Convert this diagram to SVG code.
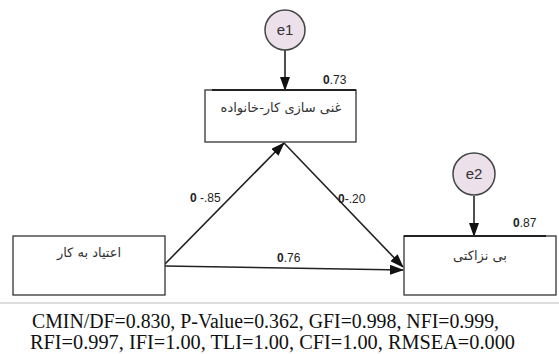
<svg xmlns="http://www.w3.org/2000/svg" width="559" height="354" viewBox="0 0 559 354">
<defs>
<marker id="ah" markerWidth="14" markerHeight="10" refX="13" refY="5" orient="auto" markerUnits="userSpaceOnUse">
<path d="M0,0 L14,5 L0,10 Z" fill="#111"/>
</marker>
<style>
.box{fill:#fff;stroke:#333;stroke-width:1.3}
.err{fill:#ece0eb;stroke:#444;stroke-width:1.5}
.fa{font-family:"DejaVu Sans","Noto Sans",sans-serif;font-size:13px;fill:#333}
.et{font-family:"Liberation Sans",Arial,sans-serif;font-size:15px;fill:#333}
.lb{font-family:"Liberation Sans",Arial,sans-serif;font-size:12px;fill:#222}
.cn{stroke:#222;stroke-width:1.6;fill:none}
.ft{font-family:"Liberation Serif","Times New Roman",serif;font-size:20px;fill:#111}
</style>
</defs>
<g id="connectors">
<line class="cn" x1="285" y1="50" x2="285" y2="90" marker-end="url(#ah)"/>
<line class="cn" x1="474" y1="196" x2="474" y2="236" marker-end="url(#ah)"/>
<line class="cn" x1="165" y1="264" x2="284" y2="143" marker-end="url(#ah)"/>
<line class="cn" x1="284" y1="143" x2="403" y2="267" marker-end="url(#ah)"/>
<line class="cn" x1="165" y1="266" x2="403" y2="270" marker-end="url(#ah)"/>
<text class="lb" x="190" y="202"><tspan font-weight="bold">0</tspan> -.85</text>
<text class="lb" x="338" y="203"><tspan font-weight="bold">0</tspan>-.20</text>
<text class="lb" x="277" y="262"><tspan font-weight="bold">0</tspan>.76</text>
</g>
<g id="e1">
<circle class="err" cx="285" cy="30" r="20"/>
<text class="et" x="285" y="35" text-anchor="middle">e1</text>
</g>
<g id="e2">
<circle class="err" cx="474" cy="174" r="21"/>
<text class="et" x="474" y="179" text-anchor="middle">e2</text>
</g>
<g id="n_work_family">
<rect class="box" x="205" y="90" width="151" height="52"/>
<line x1="212" y1="90" x2="356" y2="90" stroke="#222" stroke-width="2"/>
<text class="fa" x="281" y="112" text-anchor="middle" direction="rtl">غنی سازی کار-خانواده</text>
<text class="lb" x="323" y="84"><tspan font-weight="bold">0</tspan>.73</text>
</g>
<g id="n_workaholism">
<rect class="box" x="13" y="236" width="152" height="59"/>
<text class="fa" x="89" y="257" text-anchor="middle" direction="rtl">اعتیاد به کار</text>
</g>
<g id="n_incivility">
<rect class="box" x="404" y="236" width="152" height="59"/>
<line x1="404" y1="236" x2="546" y2="236" stroke="#222" stroke-width="2"/>
<text class="fa" x="480" y="260" text-anchor="middle" direction="rtl">بی نزاکتی</text>
<text class="lb" x="513" y="227"><tspan font-weight="bold">0</tspan>.87</text>
</g>
<line x1="0" y1="303" x2="559" y2="303" stroke="#bbb" stroke-width="1"/>
<text class="ft" x="32" y="328" textLength="467" lengthAdjust="spacingAndGlyphs">CMIN/DF=0.830, P-Value=0.362, GFI=0.998, NFI=0.999,</text>
<text class="ft" x="30" y="349" textLength="485" lengthAdjust="spacingAndGlyphs">RFI=0.997, IFI=1.00, TLI=1.00, CFI=1.00, RMSEA=0.000</text>
</svg>
